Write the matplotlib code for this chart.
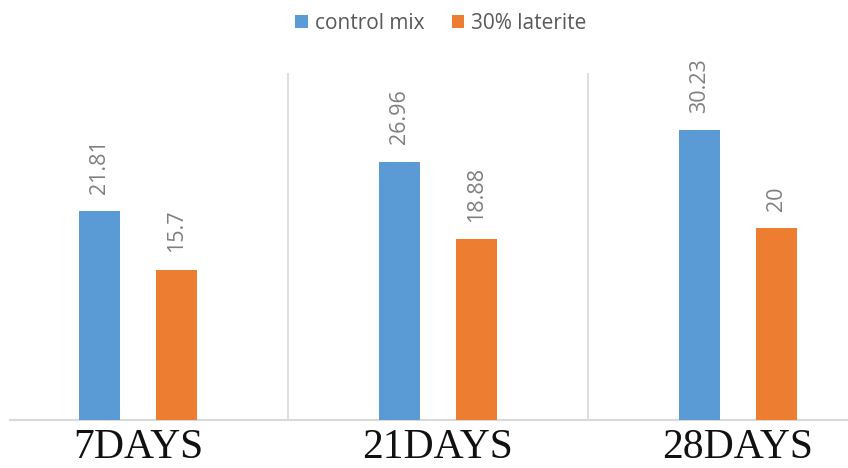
import matplotlib.pyplot as plt
import numpy as np

categories = ['7DAYS', '21DAYS', '28DAYS']
control_mix = [21.81, 26.96, 30.23]
laterite_30 = [15.7, 18.88, 20]
series_names = ['control mix', '30% laterite']

blue = '#5B9BD5'
orange = '#ED7D31'
grey = '#D9D9D9'

fig = plt.figure(figsize=(8.48, 4.68), dpi=100)
ax = fig.add_axes([10 / 848, 48 / 468, 838 / 848, 347 / 468])

x = np.arange(len(categories))
w = 0.135
off = 0.128
b1 = ax.bar(x - off, control_mix, w, color=blue, label=series_names[0], zorder=3)
b2 = ax.bar(x + off, laterite_30, w, color=orange, label=series_names[1], zorder=3)

for bars, vals in [(b1, control_mix), (b2, laterite_30)]:
    for rect, v in zip(bars, vals):
        ax.annotate(f'{v:g}', (rect.get_x() + rect.get_width() / 2, v),
                    xytext=(0, 12.5), textcoords='offset points',
                    rotation=90, ha='center', va='bottom',
                    fontsize=15.5, color='#7F7F7F', family='Open Sans')

ax.set_xlim(-0.4267, 2.367)
ax.set_ylim(0, 36.2)

# category separators
for sep in [0.5, 1.5]:
    ax.axvline(sep, color=grey, lw=1.2, zorder=1)

for s in ['top', 'right', 'left']:
    ax.spines[s].set_visible(False)
ax.spines['bottom'].set_color(grey)
ax.spines['bottom'].set_linewidth(1.5)

ax.set_yticks([])
ax.set_xticks(x)
ax.set_xticklabels(categories, family='Liberation Serif', fontsize=30, color='#111111')
ax.tick_params(axis='x', length=0, pad=6)

fig.legend(loc='upper center', bbox_to_anchor=(0.52, 1.012), ncol=2, frameon=False,
           prop={'family': 'Open Sans', 'size': 15}, handlelength=0.6,
           handleheight=0.6, handletextpad=0.35, columnspacing=1.3,
           labelcolor='#595959')

fig.savefig('out.png', dpi=100)
